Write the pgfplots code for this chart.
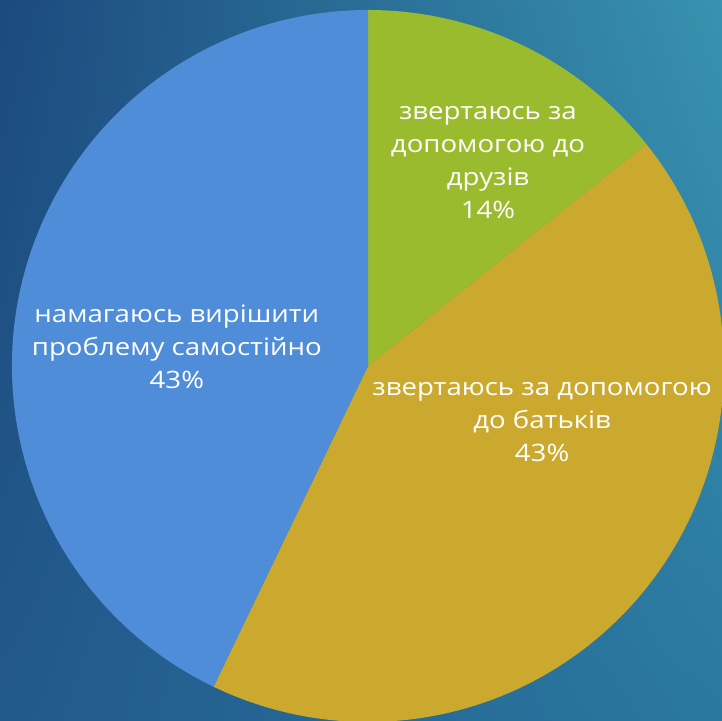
\documentclass[border=0pt]{standalone}
\usepackage{pgfplots}
\pgfplotsset{compat=1.18}
\usetikzlibrary{shadings}
\usepackage{fontspec}
\setmainfont{Open Sans}[FakeStretch=1.15]
\definecolor{bgUL}{HTML}{1C4A7E}
\definecolor{bgUR}{HTML}{3892B0}
\definecolor{bgLL}{HTML}{22598B}
\definecolor{bgLR}{HTML}{2A78A0}
\definecolor{cGreen}{HTML}{9BBB2F}
\definecolor{cGold}{HTML}{CBA92E}
\definecolor{cBlue}{HTML}{4F8DD8}
% shares (per cent)
\def\vA{14.2857}% звертаюсь за допомогою до друзів
\def\vB{42.8571}% звертаюсь за допомогою до батьків
\def\vC{42.8571}% намагаюсь вирішити проблему самостійно
\begin{document}
\begin{tikzpicture}[x=1pt,y=1pt]
\useasboundingbox (0,0) rectangle (361,360.5);
\shade[upper left=bgUL, upper right=bgUR, lower left=bgLL, lower right=bgLR] (0,0) rectangle (361,360.5);
\clip (0,0) rectangle (361,360.5);
\pgfmathsetmacro{\aA}{90}
\pgfmathsetmacro{\aB}{90-\vA*3.6}
\pgfmathsetmacro{\aC}{\aB-\vB*3.6}
\pgfmathsetmacro{\aD}{\aC-\vC*3.6}
\begin{axis}[
  hide axis, scale only axis,
  width=356pt, height=356pt,
  xmin=-1, xmax=1, ymin=-1, ymax=1,
  at={(184pt,177.5pt)}, anchor=center,
  clip=false,
]
\fill[cGreen] (axis cs:0,0) -- (axis cs:{cos(\aA)},{sin(\aA)}) arc[start angle=\aA, end angle=\aB, radius=178pt] -- cycle;
\fill[cGold] (axis cs:0,0) -- (axis cs:{cos(\aB)},{sin(\aB)}) arc[start angle=\aB, end angle=\aC, radius=178pt] -- cycle;
\fill[cBlue] (axis cs:0,0) -- (axis cs:{cos(\aC)},{sin(\aC)}) arc[start angle=\aC, end angle=\aD, radius=178pt] -- cycle;
\node[text=white, align=center, font=\fontsize{12}{16.5}\selectfont] at (axis cs:0.337,0.572) {звертаюсь за\\допомогою до\\друзів\\14\%};
\node[text=white, align=center, font=\fontsize{12}{16.5}\selectfont] at (axis cs:0.489,-0.157) {звертаюсь за допомогою\\до батьків\\43\%};
\node[text=white, align=center, font=\fontsize{12}{16.5}\selectfont] at (axis cs:-0.537,0.055) {намагаюсь вирішити\\проблему самостійно\\43\%};
\end{axis}
\end{tikzpicture}
\end{document}
